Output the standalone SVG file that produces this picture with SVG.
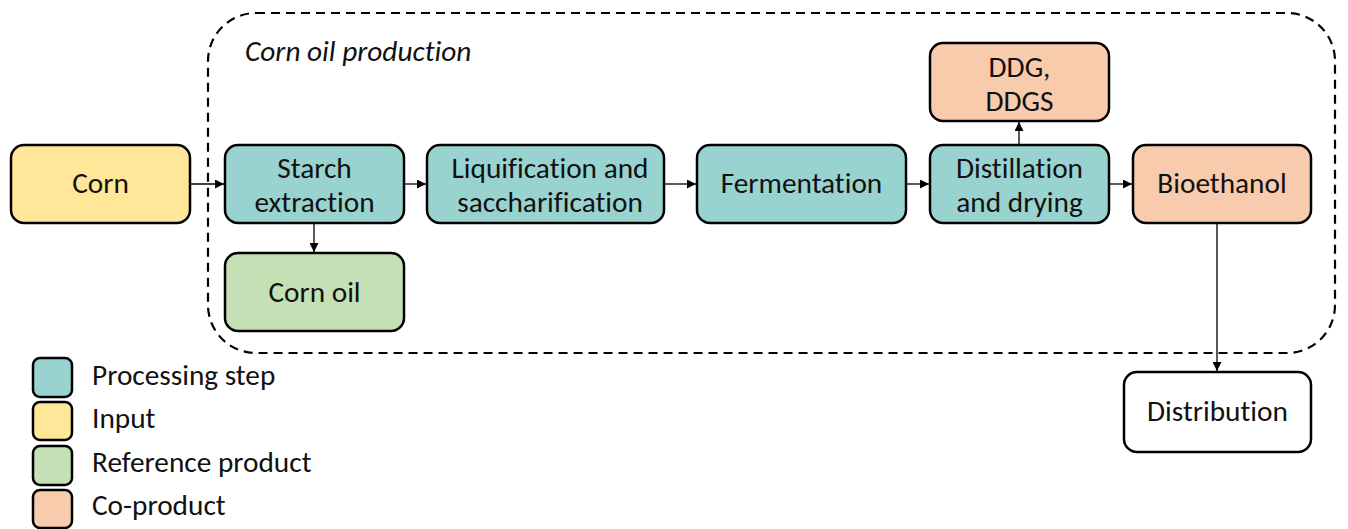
<svg xmlns="http://www.w3.org/2000/svg" width="1348" height="529" viewBox="0 0 1348 529">
<style>
.n{stroke:#000;stroke-width:2.5}
.t{font-family:Carlito,Calibri,"Open Sans","Noto Sans",sans-serif;font-size:29.3px;fill:#111;text-anchor:middle;font-variant-ligatures:none}
.lt{font-family:Carlito,Calibri,"Open Sans","Noto Sans",sans-serif;font-size:29.3px;fill:#111;font-variant-ligatures:none}
.proc{fill:#99d3cf}.inp{fill:#ffe699}.ref{fill:#c5e0b4}.co{fill:#f8cbad}.wh{fill:#fff}
.c{stroke:#000;stroke-width:1.3;fill:none;marker-end:url(#ah)}
</style>
<defs>
<marker id="ah" viewBox="0 0 10 10" refX="10" refY="5" markerWidth="9" markerHeight="9" markerUnits="userSpaceOnUse" orient="auto">
<path d="M0,0 L10,5 L0,10 z" fill="#000"/>
</marker>
</defs>
<rect x="0" y="0" width="1348" height="529" fill="#fff"/>
<g id="boundary">
<rect x="208" y="13" width="1127" height="340" rx="48" ry="48" fill="none" stroke="#000" stroke-width="2.2" stroke-dasharray="9,6"/>
<text x="245" y="61" class="lt" font-style="italic">Corn oil production</text>
</g>
<g id="connectors">
<line class="c" x1="190" y1="184" x2="224" y2="184"/>
<line class="c" x1="404" y1="184" x2="426" y2="184"/>
<line class="c" x1="664" y1="184" x2="696" y2="184"/>
<line class="c" x1="906" y1="184" x2="929" y2="184"/>
<line class="c" x1="1109" y1="184" x2="1132" y2="184"/>
<line class="c" x1="314" y1="223" x2="314" y2="252"/>
<line class="c" x1="1019" y1="145" x2="1019" y2="122"/>
<line class="c" x1="1217" y1="223" x2="1217" y2="371"/>
</g>
<g id="corn"><rect class="n inp" x="11" y="145" width="179" height="78" rx="13"/><text class="t" x="100.5" y="193">Corn</text></g>
<g id="starch"><rect class="n proc" x="225" y="145" width="179" height="78" rx="13"/><text class="t" x="314.5" y="178">Starch</text><text class="t" x="314.5" y="212">extraction</text></g>
<g id="cornoil"><rect class="n ref" x="225" y="253" width="179" height="78" rx="13"/><text class="t" x="314.5" y="302">Corn oil</text></g>
<g id="liq"><rect class="n proc" x="427" y="145" width="237" height="78" rx="13"/><text class="t" x="550" y="178">Liquification and</text><text class="t" x="550" y="212">saccharification</text></g>
<g id="ferm"><rect class="n proc" x="697" y="145" width="209" height="78" rx="13"/><text class="t" x="801.5" y="193">Fermentation</text></g>
<g id="dist"><rect class="n proc" x="930" y="145" width="179" height="78" rx="13"/><text class="t" x="1019.5" y="178">Distillation</text><text class="t" x="1019.5" y="212">and drying</text></g>
<g id="ddg"><rect class="n co" x="930" y="43" width="179" height="78" rx="13"/><text class="t" x="1019.5" y="77">DDG,</text><text class="t" x="1019.5" y="111">DDGS</text></g>
<g id="bio"><rect class="n co" x="1133" y="145" width="178" height="78" rx="13"/><text class="t" x="1222" y="193">Bioethanol</text></g>
<g id="distr"><rect class="n wh" x="1124" y="372" width="187" height="80" rx="13"/><text class="t" x="1217.5" y="421">Distribution</text></g>
<g id="legend">
<rect class="n proc" x="33" y="358" width="39" height="39" rx="7"/><text class="lt" x="92" y="385">Processing step</text>
<rect class="n inp" x="33" y="402" width="39" height="38" rx="7"/><text class="lt" x="92" y="428">Input</text>
<rect class="n ref" x="33" y="446" width="39" height="39" rx="7"/><text class="lt" x="92" y="472">Reference product</text>
<rect class="n co" x="33" y="490" width="39" height="38" rx="7"/><text class="lt" x="92" y="515">Co-product</text>
</g>
</svg>
